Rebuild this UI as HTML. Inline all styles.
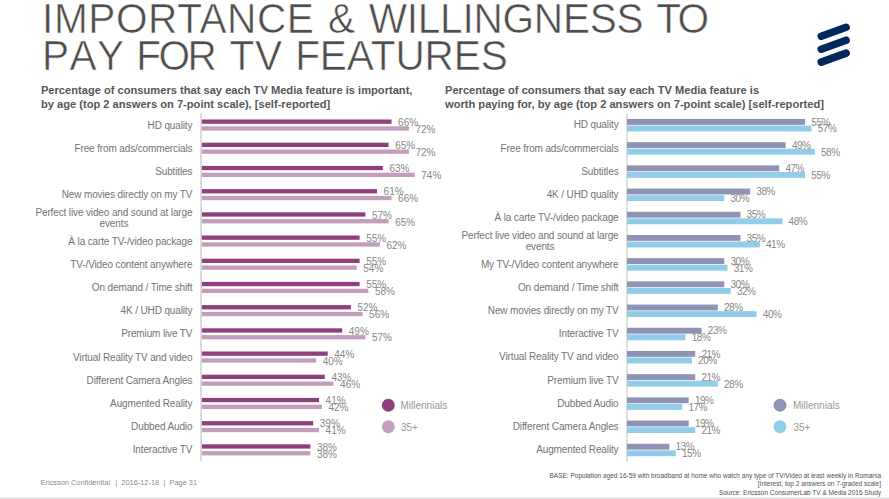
<!DOCTYPE html>
<html lang="en"><head><meta charset="utf-8"><title>Importance &amp; willingness to pay for TV features</title>
<style>
html,body{margin:0;padding:0;background:#fff}
body{width:889px;height:499px;position:relative;overflow:hidden;font-family:"Liberation Sans",Arial,sans-serif;color:#777}
.title{position:absolute;left:0;top:0;margin:0;font-weight:400;font-size:40.6px;line-height:40.6px;color:#514d4c;white-space:nowrap;-webkit-text-stroke:0.55px #fff}
.tl{position:absolute;display:block;transform-origin:0 0;transform:scaleY(1.058)}
.hdr{position:absolute;margin:0;font-weight:700;font-size:11.13px;line-height:14px;color:#565656;white-space:nowrap}
.gfx{position:absolute;left:0;top:0}
.lab{position:absolute;left:0;text-align:right;font-size:10px;letter-spacing:-0.13px;line-height:11px;color:#737373;white-space:nowrap}
.lab .c{display:inline-block;text-align:center}
.val{position:absolute;font-size:10px;line-height:11px;color:#878787;white-space:nowrap}
.v2{letter-spacing:-0.45px}
.leg{position:absolute;font-size:10px;line-height:12px;color:#979797;white-space:nowrap}
.foot{position:absolute;font-size:7.4px;line-height:9px;color:#8a8a8a;white-space:nowrap}
.src{position:absolute;right:8px;top:472.1px;text-align:right;font-size:6.5px;line-height:8.25px;color:#505050;white-space:nowrap}
</style></head><body>
<h1 class="title"><span class="tl" style="left:42.1px;top:-3.0px;letter-spacing:0.556px">IMPORTANCE</span> <span class="tl" style="left:328.0px;top:-3.0px;letter-spacing:0px">&amp;</span> <span class="tl" style="left:368.7px;top:-3.0px;letter-spacing:-0.24px">WILLINGNESS</span> <span class="tl" style="left:656.2px;top:-3.0px;letter-spacing:-2.8px">TO</span> <span class="tl" style="left:42.1px;top:33.6px;letter-spacing:3.35px">PAY</span> <span class="tl" style="left:136.2px;top:33.6px;letter-spacing:-2.5px">FOR</span> <span class="tl" style="left:229.4px;top:33.6px;letter-spacing:0.8px">TV</span> <span class="tl" style="left:295.2px;top:33.6px;letter-spacing:-0.114px">FEATURES</span></h1>
<p class="hdr" style="left:40.9px;top:83px">Percentage of consumers that say each TV Media feature is important,<br>by age (top 2 answers on 7-point scale), [self-reported]</p>
<p class="hdr" style="left:445px;top:83px">Percentage of consumers that say each TV Media feature is<br>worth paying for, by age (top 2 answers on 7-point scale) [self-reported]</p>
<svg class="gfx" width="889" height="499" viewBox="0 0 889 499" aria-hidden="true">
<rect x="200.25" y="112.9" width="1.7" height="348.10" fill="#d3d5d5"/>
<rect x="201.90" y="119.50" width="189.60" height="4.3" fill="#8f3f7b"/>
<rect x="201.90" y="126.30" width="207.00" height="4.3" fill="#c29dbc"/>
<rect x="201.90" y="142.70" width="186.70" height="4.3" fill="#8f3f7b"/>
<rect x="201.90" y="149.50" width="207.00" height="4.3" fill="#c29dbc"/>
<rect x="201.90" y="165.90" width="180.90" height="4.3" fill="#8f3f7b"/>
<rect x="201.90" y="172.70" width="212.80" height="4.3" fill="#c29dbc"/>
<rect x="201.90" y="189.10" width="175.10" height="4.3" fill="#8f3f7b"/>
<rect x="201.90" y="195.90" width="189.60" height="4.3" fill="#c29dbc"/>
<rect x="201.90" y="212.30" width="163.50" height="4.3" fill="#8f3f7b"/>
<rect x="201.90" y="219.10" width="186.70" height="4.3" fill="#c29dbc"/>
<rect x="201.90" y="235.50" width="157.70" height="4.3" fill="#8f3f7b"/>
<rect x="201.90" y="242.30" width="178.00" height="4.3" fill="#c29dbc"/>
<rect x="201.90" y="258.70" width="157.70" height="4.3" fill="#8f3f7b"/>
<rect x="201.90" y="265.50" width="154.80" height="4.3" fill="#c29dbc"/>
<rect x="201.90" y="281.90" width="157.70" height="4.3" fill="#8f3f7b"/>
<rect x="201.90" y="288.70" width="166.40" height="4.3" fill="#c29dbc"/>
<rect x="201.90" y="305.10" width="149.00" height="4.3" fill="#8f3f7b"/>
<rect x="201.90" y="311.90" width="160.60" height="4.3" fill="#c29dbc"/>
<rect x="201.90" y="328.30" width="140.30" height="4.3" fill="#8f3f7b"/>
<rect x="201.90" y="335.10" width="163.50" height="4.3" fill="#c29dbc"/>
<rect x="201.90" y="351.50" width="125.80" height="4.3" fill="#8f3f7b"/>
<rect x="201.90" y="358.30" width="114.20" height="4.3" fill="#c29dbc"/>
<rect x="201.90" y="374.70" width="122.90" height="4.3" fill="#8f3f7b"/>
<rect x="201.90" y="381.50" width="131.60" height="4.3" fill="#c29dbc"/>
<rect x="201.90" y="397.90" width="117.10" height="4.3" fill="#8f3f7b"/>
<rect x="201.90" y="404.70" width="120.00" height="4.3" fill="#c29dbc"/>
<rect x="201.90" y="421.10" width="111.30" height="4.3" fill="#8f3f7b"/>
<rect x="201.90" y="427.90" width="117.10" height="4.3" fill="#c29dbc"/>
<rect x="201.90" y="444.30" width="108.40" height="4.3" fill="#8f3f7b"/>
<rect x="201.90" y="451.10" width="108.40" height="4.3" fill="#c29dbc"/>
<rect x="626.00" y="113.2" width="2.0" height="348.50" fill="#dfe1e1"/>
<rect x="627.00" y="118.95" width="178.06" height="5.9" fill="#8f93b5"/>
<rect x="627.00" y="125.55" width="184.52" height="5.9" fill="#91cce9"/>
<rect x="627.00" y="142.15" width="158.67" height="5.9" fill="#8f93b5"/>
<rect x="627.00" y="148.75" width="187.76" height="5.9" fill="#91cce9"/>
<rect x="627.00" y="165.35" width="152.20" height="5.9" fill="#8f93b5"/>
<rect x="627.00" y="171.95" width="178.06" height="5.9" fill="#91cce9"/>
<rect x="627.00" y="188.55" width="123.12" height="5.9" fill="#8f93b5"/>
<rect x="627.00" y="195.15" width="97.26" height="5.9" fill="#91cce9"/>
<rect x="627.00" y="211.75" width="113.42" height="5.9" fill="#8f93b5"/>
<rect x="627.00" y="218.35" width="155.44" height="5.9" fill="#91cce9"/>
<rect x="627.00" y="234.95" width="113.42" height="5.9" fill="#8f93b5"/>
<rect x="627.00" y="241.55" width="132.81" height="5.9" fill="#91cce9"/>
<rect x="627.00" y="258.15" width="97.26" height="5.9" fill="#8f93b5"/>
<rect x="627.00" y="264.75" width="100.49" height="5.9" fill="#91cce9"/>
<rect x="627.00" y="281.35" width="97.26" height="5.9" fill="#8f93b5"/>
<rect x="627.00" y="287.95" width="103.72" height="5.9" fill="#91cce9"/>
<rect x="627.00" y="304.55" width="90.80" height="5.9" fill="#8f93b5"/>
<rect x="627.00" y="311.15" width="129.58" height="5.9" fill="#91cce9"/>
<rect x="627.00" y="327.75" width="74.64" height="5.9" fill="#8f93b5"/>
<rect x="627.00" y="334.35" width="58.48" height="5.9" fill="#91cce9"/>
<rect x="627.00" y="350.95" width="68.17" height="5.9" fill="#8f93b5"/>
<rect x="627.00" y="357.55" width="64.94" height="5.9" fill="#91cce9"/>
<rect x="627.00" y="374.15" width="68.17" height="5.9" fill="#8f93b5"/>
<rect x="627.00" y="380.75" width="90.80" height="5.9" fill="#91cce9"/>
<rect x="627.00" y="397.35" width="61.71" height="5.9" fill="#8f93b5"/>
<rect x="627.00" y="403.95" width="55.24" height="5.9" fill="#91cce9"/>
<rect x="627.00" y="420.55" width="61.71" height="5.9" fill="#8f93b5"/>
<rect x="627.00" y="427.15" width="68.17" height="5.9" fill="#91cce9"/>
<rect x="627.00" y="443.75" width="42.32" height="5.9" fill="#8f93b5"/>
<rect x="627.00" y="450.35" width="48.78" height="5.9" fill="#91cce9"/>
<circle cx="388.3" cy="405.3" r="6.45" fill="#8f3f7b"/><circle cx="388.3" cy="426.7" r="6.45" fill="#c29dbc"/>
<circle cx="780.0" cy="405.3" r="6.45" fill="#8f93b5"/><circle cx="780.0" cy="426.7" r="6.45" fill="#91cce9"/>
<g stroke="#00285f" stroke-width="7.6" stroke-linecap="round" fill="none"><line x1="821.3" y1="36.3" x2="846.1" y2="27.3"/><line x1="821.3" y1="49.2" x2="846.1" y2="40.2"/><line x1="821.3" y1="62.1" x2="846.1" y2="53.1"/></g>
<rect x="0" y="497.7" width="889" height="1.3" fill="#dddddd"/>
</svg>
<div class="lab" style="top:120px;width:192.4px">HD quality</div>
<div class="val" style="left:398.1px;top:117px">66%</div>
<div class="val" style="left:415.5px;top:124px">72%</div>
<div class="lab" style="top:143px;width:192.4px">Free from ads/commercials</div>
<div class="val" style="left:395.2px;top:140px">65%</div>
<div class="val" style="left:415.5px;top:147px">72%</div>
<div class="lab" style="top:166px;width:192.4px">Subtitles</div>
<div class="val" style="left:389.4px;top:163px">63%</div>
<div class="val" style="left:421.3px;top:170px">74%</div>
<div class="lab" style="top:189px;width:192.4px">New movies directly on my TV</div>
<div class="val" style="left:383.6px;top:186px">61%</div>
<div class="val" style="left:398.1px;top:193px">66%</div>
<div class="lab two" style="top:207.0px;width:192.4px"><span class="c">Perfect live video and sound at large<br>events</span></div>
<div class="val" style="left:372.0px;top:210px">57%</div>
<div class="val" style="left:395.2px;top:217px">65%</div>
<div class="lab" style="top:236px;width:192.4px">À la carte TV-/video package</div>
<div class="val" style="left:366.2px;top:233px">55%</div>
<div class="val" style="left:386.5px;top:240px">62%</div>
<div class="lab" style="top:259px;width:192.4px">TV-/Video content anywhere</div>
<div class="val" style="left:366.2px;top:256px">55%</div>
<div class="val" style="left:363.3px;top:263px">54%</div>
<div class="lab" style="top:282px;width:192.4px">On demand / Time shift</div>
<div class="val" style="left:366.2px;top:279px">55%</div>
<div class="val" style="left:374.9px;top:286px">58%</div>
<div class="lab" style="top:305px;width:192.4px">4K / UHD quality</div>
<div class="val" style="left:357.5px;top:302px">52%</div>
<div class="val" style="left:369.1px;top:309px">56%</div>
<div class="lab" style="top:328px;width:192.4px">Premium live TV</div>
<div class="val" style="left:348.8px;top:326px">49%</div>
<div class="val" style="left:372.0px;top:332px">57%</div>
<div class="lab" style="top:352px;width:192.4px">Virtual Reality TV and video</div>
<div class="val" style="left:334.3px;top:349px">44%</div>
<div class="val" style="left:322.7px;top:356px">40%</div>
<div class="lab" style="top:375px;width:192.4px">Different Camera Angles</div>
<div class="val" style="left:331.4px;top:372px">43%</div>
<div class="val" style="left:340.1px;top:379px">46%</div>
<div class="lab" style="top:398px;width:192.4px">Augmented Reality</div>
<div class="val" style="left:325.6px;top:395px">41%</div>
<div class="val" style="left:328.5px;top:402px">42%</div>
<div class="lab" style="top:421px;width:192.4px">Dubbed Audio</div>
<div class="val" style="left:319.8px;top:418px">39%</div>
<div class="val" style="left:325.6px;top:425px">41%</div>
<div class="lab" style="top:444px;width:192.4px">Interactive TV</div>
<div class="val" style="left:316.9px;top:442px">38%</div>
<div class="val" style="left:316.9px;top:449px">38%</div>
<div class="lab" style="top:119px;width:618.5px">HD quality</div>
<div class="val v2" style="left:811.3px;top:117px">55%</div>
<div class="val v2" style="left:817.7px;top:123px">57%</div>
<div class="lab" style="top:143px;width:618.5px">Free from ads/commercials</div>
<div class="val v2" style="left:791.9px;top:140px">49%</div>
<div class="val v2" style="left:821.0px;top:147px">58%</div>
<div class="lab" style="top:166px;width:618.5px">Subtitles</div>
<div class="val v2" style="left:785.4px;top:163px">47%</div>
<div class="val v2" style="left:811.3px;top:170px">55%</div>
<div class="lab" style="top:189px;width:618.5px">4K / UHD quality</div>
<div class="val v2" style="left:756.3px;top:186px">38%</div>
<div class="val v2" style="left:730.5px;top:193px">30%</div>
<div class="lab" style="top:212px;width:618.5px">À la carte TV-/video package</div>
<div class="val v2" style="left:746.6px;top:209px">35%</div>
<div class="val v2" style="left:788.6px;top:216px">48%</div>
<div class="lab two" style="top:230.0px;width:618.5px"><span class="c">Perfect live video and sound at large<br>events</span></div>
<div class="val v2" style="left:746.6px;top:233px">35%</div>
<div class="val v2" style="left:766.0px;top:239px">41%</div>
<div class="lab" style="top:259px;width:618.5px">My TV-/Video content anywhere</div>
<div class="val v2" style="left:730.5px;top:256px">30%</div>
<div class="val v2" style="left:733.7px;top:263px">31%</div>
<div class="lab" style="top:282px;width:618.5px">On demand / Time shift</div>
<div class="val v2" style="left:730.5px;top:279px">30%</div>
<div class="val v2" style="left:736.9px;top:286px">32%</div>
<div class="lab" style="top:305px;width:618.5px">New movies directly on my TV</div>
<div class="val v2" style="left:724.0px;top:302px">28%</div>
<div class="val v2" style="left:762.8px;top:309px">40%</div>
<div class="lab" style="top:328px;width:618.5px">Interactive TV</div>
<div class="val v2" style="left:707.8px;top:325px">23%</div>
<div class="val v2" style="left:691.7px;top:332px">18%</div>
<div class="lab" style="top:351px;width:618.5px">Virtual Reality TV and video</div>
<div class="val v2" style="left:701.4px;top:349px">21%</div>
<div class="val v2" style="left:698.1px;top:355px">20%</div>
<div class="lab" style="top:375px;width:618.5px">Premium live TV</div>
<div class="val v2" style="left:701.4px;top:372px">21%</div>
<div class="val v2" style="left:724.0px;top:379px">28%</div>
<div class="lab" style="top:398px;width:618.5px">Dubbed Audio</div>
<div class="val v2" style="left:694.9px;top:395px">19%</div>
<div class="val v2" style="left:688.4px;top:402px">17%</div>
<div class="lab" style="top:421px;width:618.5px">Different Camera Angles</div>
<div class="val v2" style="left:694.9px;top:418px">19%</div>
<div class="val v2" style="left:701.4px;top:425px">21%</div>
<div class="lab" style="top:444px;width:618.5px">Augmented Reality</div>
<div class="val v2" style="left:675.5px;top:441px">13%</div>
<div class="val v2" style="left:682.0px;top:448px">15%</div>
<div class="leg" style="left:400.5px;top:400.4px">Millennials</div>
<div class="leg" style="left:400.9px;top:421.6px">35+</div>
<div class="leg" style="left:793.0px;top:400.4px">Millennials</div>
<div class="leg" style="left:793.4px;top:421.6px">35+</div>
<div class="foot" style="left:40.6px;top:477.7px">Ericsson Confidential</div><div class="foot" style="left:115.3px;top:477.7px">|</div><div class="foot" style="left:121.3px;top:477.7px">2016-12-18</div><div class="foot" style="left:163.5px;top:477.7px">|</div><div class="foot" style="left:169.5px;top:477.7px">Page 31</div>
<div class="src">BASE: Population aged 16-59 with broadband at home who watch any type of TV/Video at least weekly in Romania<br>[Interest, top 2 answers on 7-graded scale]<br>Source: Ericsson ConsumerLab TV &amp; Media 2016 Study</div>
</body></html>
